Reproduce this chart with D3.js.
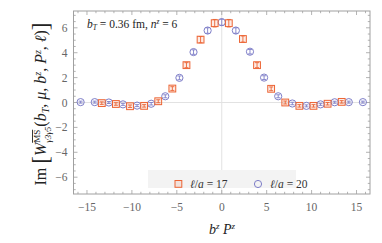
<!DOCTYPE html>
<html><head><meta charset="utf-8">
<script src="https://cdn.jsdelivr.net/npm/d3@7"></script>
<style>body{margin:0;background:#fff}svg{display:block}</style>
</head><body>
<script>
// ---- data ----
const circleK = [-10,-9,-8,-7,-6,-5,-4,-3,-2,-1,0,1,2,3,4,5,6,7,8,9,10];
const circleX = circleK.map(k => k*Math.PI/2);
const circleY = [0.03,0.03,0.0,-0.15,-0.25,-0.1,0.5,1.98,4.05,5.78,6.45,5.78,4.08,2.0,0.5,-0.08,-0.27,-0.15,0.02,0.03,0.03];
const circleErr = [0.08,0.08,0.08,0.08,0.08,0.1,0.12,0.15,0.18,0.22,0.25,0.22,0.18,0.15,0.12,0.1,0.08,0.08,0.08,0.08,0.08];
const squareK = [-8.5,-7.5,-6.5,-5.5,-4.5,-3.5,-2.5,-1.5,-0.5,0.5,1.5,2.5,3.5,4.5,5.5,6.5,7.5,8.5];
const squareX = squareK.map(k => k*Math.PI/2);
const squareY = [-0.05,-0.12,-0.3,-0.27,0.1,1.12,3.0,5.05,6.37,6.37,5.1,3.0,1.1,0.0,-0.27,-0.27,-0.1,0.05];
const squareErr = [0.1,0.1,0.1,0.1,0.12,0.15,0.2,0.25,0.3,0.3,0.25,0.2,0.15,0.12,0.1,0.1,0.1,0.1];
const xTicks = [-15,-10,-5,0,5,10,15];
const yTicks = [-6,-4,-2,0,2,4,6];
const legendLabels = ["17","20"];

const W = 382, H = 243;
const m = {l:73.5, r:12, t:11, b:49};
const svg = d3.select("body").append("svg").attr("width",W).attr("height",H);
const x = d3.scaleLinear().domain([-16.5,16.5]).range([m.l, W-m.r]);
const y = d3.scaleLinear().domain([-7.35,7.35]).range([H-m.b, m.t]);
const orange = "#ec6434", blue = "#7e7ec8";
const serif = "'Liberation Serif','DejaVu Serif',serif";

// zero lines
svg.append("line").attr("x1",x.range()[0]).attr("x2",x.range()[1]).attr("y1",y(0)).attr("y2",y(0)).attr("stroke","#e2e2e2").attr("stroke-width",1);
svg.append("line").attr("x1",x(0)).attr("x2",x(0)).attr("y1",y.range()[0]).attr("y2",y.range()[1]).attr("stroke","#e2e2e2").attr("stroke-width",1);

// legend box
const lg = svg.append("g");
lg.append("rect").attr("x",148).attr("y",170).attr("width",148).attr("height",18).attr("fill","#f3f3f3");

// frame and ticks
const frame = svg.append("g").attr("stroke","#a0a0a0").attr("fill","none");
frame.append("rect").attr("x",x.range()[0]).attr("y",y.range()[1]).attr("width",x.range()[1]-x.range()[0]).attr("height",y.range()[0]-y.range()[1]).attr("stroke-width",1);
const xMinor = d3.range(-16,17,1);
const yMinor = d3.range(-7,7.01,0.5);
xMinor.forEach(v=>{
  const major = v%5===0, len = major?4:2.2;
  frame.append("line").attr("x1",x(v)).attr("x2",x(v)).attr("y1",y.range()[0]).attr("y2",y.range()[0]-len).attr("stroke-width",0.8);
  frame.append("line").attr("x1",x(v)).attr("x2",x(v)).attr("y1",y.range()[1]).attr("y2",y.range()[1]+len).attr("stroke-width",0.8);
});
yMinor.forEach(v=>{
  const major = Math.abs(v%2)<1e-9, len = major?4:2.2;
  frame.append("line").attr("y1",y(v)).attr("y2",y(v)).attr("x1",x.range()[0]).attr("x2",x.range()[0]+len).attr("stroke-width",0.8);
  frame.append("line").attr("y1",y(v)).attr("y2",y(v)).attr("x1",x.range()[1]).attr("x2",x.range()[1]-len).attr("stroke-width",0.8);
});

// tick labels
const fmt = v => v<0 ? "\u2212"+Math.abs(v) : ""+v;
svg.append("g").selectAll("text").data(xTicks).join("text")
  .attr("x",d=>x(d)).attr("y",y.range()[0]+17).attr("text-anchor","middle")
  .attr("font-family",serif).attr("font-size",11.5).attr("fill","#666").text(fmt);
svg.append("g").selectAll("text").data(yTicks).join("text")
  .attr("x",x.range()[0]-6).attr("y",d=>y(d)+4).attr("text-anchor","end")
  .attr("font-family",serif).attr("font-size",11.5).attr("fill","#666").text(fmt);

// error bars + markers
function errbars(g, xs, ys, es, col){
  xs.forEach((xv,i)=>{
    const cx=x(xv), y1=y(ys[i]+es[i]), y2=y(ys[i]-es[i]);
    g.append("line").attr("x1",cx).attr("x2",cx).attr("y1",y1).attr("y2",y2).attr("stroke",col).attr("stroke-width",0.9);
    [y1,y2].forEach(yy=>g.append("line").attr("x1",cx-2).attr("x2",cx+2).attr("y1",yy).attr("y2",yy).attr("stroke",col).attr("stroke-width",0.9));
  });
}
const gc = svg.append("g");
errbars(gc, circleX, circleY, circleErr, blue);
gc.selectAll("circle").data(circleX).join("circle")
  .attr("cx",d=>x(d)).attr("cy",(d,i)=>y(circleY[i])).attr("r",3.6)
  .attr("fill","none").attr("stroke",blue).attr("stroke-width",1);
const gs = svg.append("g");
errbars(gs, squareX, squareY, squareErr, orange);
gs.selectAll("rect").data(squareX).join("rect")
  .attr("x",d=>x(d)-3.4).attr("y",(d,i)=>y(squareY[i])-3.4).attr("width",6.8).attr("height",6.8)
  .attr("fill","rgba(236,100,52,0.12)").attr("stroke",orange).attr("stroke-width",1);

// legend
function legText(xp, val){
  const t = lg.append("text").attr("x",xp).attr("y",188).attr("font-family",serif).attr("font-size",11.5).attr("fill","#333");
  t.append("tspan").attr("font-style","italic").text("ℓ");
  t.append("tspan").text("/");
  t.append("tspan").attr("font-style","italic").text("a");
  t.append("tspan").text(" = "+val);
}
lg.append("rect").attr("x",175).attr("y",180.5).attr("width",6.8).attr("height",6.8).attr("fill","rgba(236,100,52,0.12)").attr("stroke",orange);
legText(190, legendLabels[0]);
lg.append("circle").attr("cx",258).attr("cy",184).attr("r",3.6).attr("fill","none").attr("stroke",blue);
legText(270, legendLabels[1]);

// annotation
const ann = svg.append("text").attr("x",87).attr("y",28).attr("font-family",serif).attr("font-size",11.5).attr("fill","#222");
ann.append("tspan").attr("font-style","italic").text("b");
ann.append("tspan").attr("font-style","italic").attr("font-size",7.5).attr("dy",2).text("T");
ann.append("tspan").attr("dy",-2).text(" = 0.36 fm,  ");
ann.append("tspan").attr("font-style","italic").text("n");
ann.append("tspan").attr("font-style","italic").attr("font-size",7.5).attr("dy",-4).text("z");
ann.append("tspan").attr("dy",4).text(" = 6");

// x label
const xl = svg.append("text").attr("x",222).attr("y",234).attr("text-anchor","middle").attr("font-family",serif).attr("font-size",14).attr("fill","#222");
xl.append("tspan").attr("font-style","italic").text("b");
xl.append("tspan").attr("font-style","italic").attr("font-size",9).attr("dy",-5).text("z");
xl.append("tspan").attr("font-style","italic").attr("dy",5).text(" P");
xl.append("tspan").attr("font-style","italic").attr("font-size",9).attr("dy",-5).text("z");

// y label
const yl = svg.append("text").attr("transform","translate(46,104) rotate(-90)").attr("text-anchor","middle")
  .attr("font-family",serif).attr("font-size",16).attr("fill","#222");
yl.append("tspan").text("Im ");
yl.append("tspan").attr("font-size",23).attr("dy",2).text("[");
yl.append("tspan").attr("font-style","italic").attr("dy",-2).text("W");
yl.append("tspan").attr("font-size",9).attr("dy",-6).attr("text-decoration","overline").text("MS");
yl.append("tspan").attr("font-size",9).attr("font-style","italic").attr("dx",-13).attr("dy",11).text("γ3γ5");
yl.append("tspan").attr("dy",-5).text("(");
yl.append("tspan").attr("font-style","italic").text("b");
yl.append("tspan").attr("font-style","italic").attr("font-size",10).attr("dy",3).text("T");
yl.append("tspan").attr("dy",-3).text(", ");
yl.append("tspan").attr("font-style","italic").text("μ");
yl.append("tspan").text(", ");
yl.append("tspan").attr("font-style","italic").text("b");
yl.append("tspan").attr("font-style","italic").attr("font-size",10).attr("dy",-5).text("z");
yl.append("tspan").attr("dy",5).text(", ");
yl.append("tspan").attr("font-style","italic").text("P");
yl.append("tspan").attr("font-style","italic").attr("font-size",10).attr("dy",-5).text("z");
yl.append("tspan").attr("dy",5).text(", ");
yl.append("tspan").attr("font-style","italic").text("ℓ");
yl.append("tspan").text(")");
yl.append("tspan").attr("font-size",23).attr("dy",2).text("]");
</script>
</body></html>
